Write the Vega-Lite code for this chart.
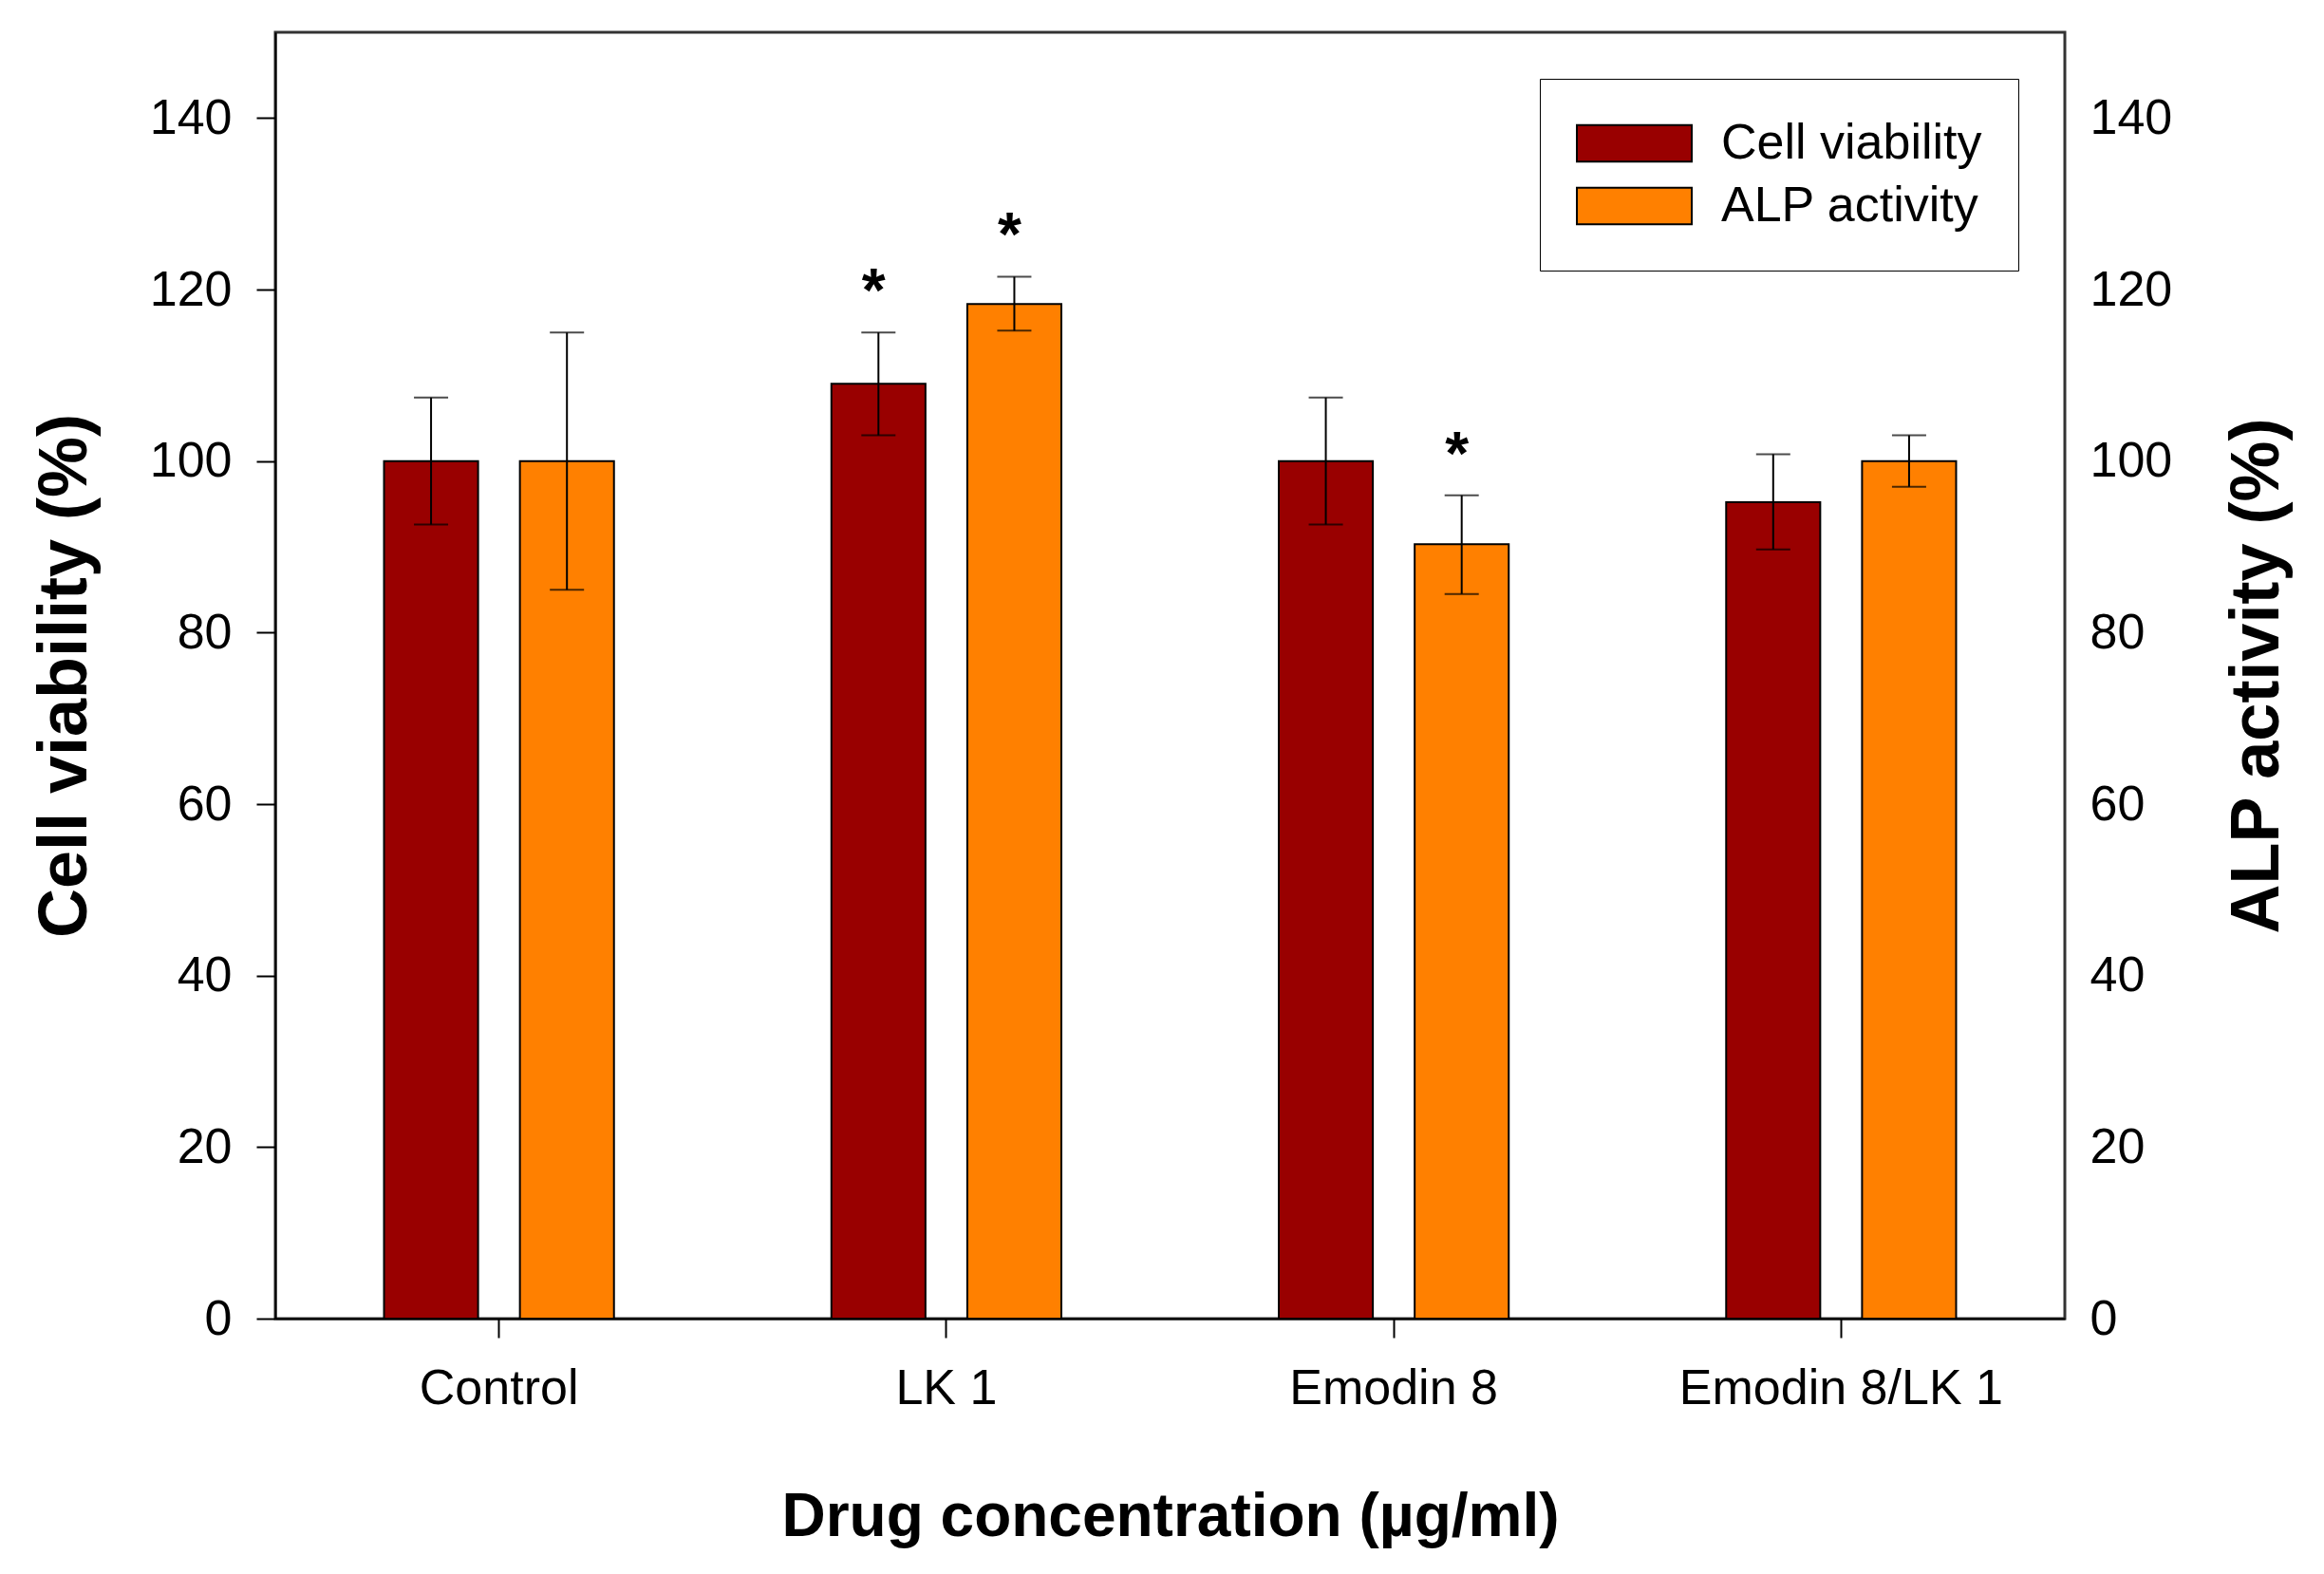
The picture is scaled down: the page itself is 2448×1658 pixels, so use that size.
{
  "$schema": "https://vega.github.io/schema/vega-lite/v6.json",
  "width": 1885,
  "height": 1355,
  "autosize": {"type": "none"},
  "padding": {"left": 290, "top": 34, "right": 273, "bottom": 269},
  "background": "white",
  "config": {
    "font": "Liberation Sans",
    "view": {"stroke": "#333333", "strokeWidth": 3},
    "axis": {"grid": false, "labelColor": "black", "titleColor": "black", "domainColor": "black", "tickColor": "black", "domainWidth": 2, "tickWidth": 2, "labelFont": "Liberation Sans", "titleFont": "Liberation Sans", "labelLimit": 0},
    "legend": {"labelFont": "Liberation Sans", "labelLimit": 0}
  },
  "data": {
    "values": [
      {"group": "Control", "series": "Cell viability", "value": 100, "lo": 92.6, "hi": 107.4, "sig": ""},
      {"group": "Control", "series": "ALP activity", "value": 100, "lo": 85, "hi": 115, "sig": ""},
      {"group": "LK 1", "series": "Cell viability", "value": 109, "lo": 103, "hi": 115, "sig": "*"},
      {"group": "LK 1", "series": "ALP activity", "value": 118.3, "lo": 115.2, "hi": 121.5, "sig": "*"},
      {"group": "Emodin 8", "series": "Cell viability", "value": 100, "lo": 92.6, "hi": 107.4, "sig": ""},
      {"group": "Emodin 8", "series": "ALP activity", "value": 90.3, "lo": 84.5, "hi": 96, "sig": "*"},
      {"group": "Emodin 8/LK 1", "series": "Cell viability", "value": 95.2, "lo": 89.7, "hi": 100.8, "sig": ""},
      {"group": "Emodin 8/LK 1", "series": "ALP activity", "value": 100, "lo": 97, "hi": 103, "sig": ""}
    ]
  },
  "encoding": {
    "x": {
      "field": "group", "type": "nominal", "sort": null,
      "scale": {"paddingInner": 0, "paddingOuter": 0},
      "axis": {"title": "Drug concentration (µg/ml)", "labelAngle": 0, "labelFontSize": 52, "labelLimit": 0, "tickSize": 20, "labelPadding": 28, "titleFontSize": 64, "titleFontWeight": "bold", "titlePadding": 78}
    },
    "xOffset": {
      "field": "series", "type": "nominal",
      "scale": {"domain": ["Cell viability", "ALP activity"], "paddingInner": 0.3077, "paddingOuter": 0.8}
    }
  },
  "layer": [
    {
      "layer": [
        {
          "mark": {"type": "bar", "stroke": "black", "strokeWidth": 2},
          "encoding": {
            "y": {"field": "value", "type": "quantitative", "scale": {"domain": [0, 150], "nice": false},
              "axis": {"title": "Cell viability (%)", "values": [0, 20, 40, 60, 80, 100, 120, 140], "labelFontSize": 52, "tickSize": 20, "labelPadding": 26, "titleFontSize": 72, "titleFontWeight": "bold", "titlePadding": 52}},
            "color": {"field": "series", "type": "nominal",
              "scale": {"domain": ["Cell viability", "ALP activity"], "range": ["#990000", "#FF8000"]},
              "legend": {"title": null, "orient": "top-right", "offset": 49, "strokeColor": "black", "padding": 38, "labelFontSize": 52, "labelLimit": 0, "labelColor": "black", "labelOffset": 30, "clipHeight": 60, "rowPadding": 6, "symbolType": "M-1,-0.32H1V0.32H-1Z", "symbolSize": 14641, "symbolStrokeColor": "black", "symbolStrokeWidth": 2, "symbolOpacity": 1}}
          }
        },
        {
          "mark": {"type": "rule", "color": "black", "strokeWidth": 2},
          "encoding": {"y": {"field": "lo", "type": "quantitative"}, "y2": {"field": "hi"}}
        },
        {
          "mark": {"type": "tick", "color": "black", "size": 36, "thickness": 2, "orient": "horizontal"},
          "encoding": {"y": {"field": "lo", "type": "quantitative"}}
        },
        {
          "mark": {"type": "tick", "color": "black", "size": 36, "thickness": 2, "orient": "horizontal"},
          "encoding": {"y": {"field": "hi", "type": "quantitative"}}
        }
      ]
    },
    {
      "transform": [{"filter": "datum.sig == '*'"}],
      "mark": {"type": "text", "fontSize": 64, "fontWeight": "bold", "color": "black", "baseline": "alphabetic", "dy": -22, "dx": -5},
      "encoding": {
        "text": {"field": "sig"},
        "y": {"field": "hi", "type": "quantitative", "scale": {"domain": [0, 150], "nice": false},
          "axis": {"orient": "right", "title": "ALP activity (%)", "values": [0, 20, 40, 60, 80, 100, 120, 140], "labelFontSize": 52, "ticks": false, "tickSize": 0, "labelPadding": 26, "titleFontSize": 72, "titleFontWeight": "bold", "titleAngle": 270, "titleBaseline": "top", "titlePadding": 55, "domain": false}}
      }
    }
  ],
  "resolve": {"scale": {"y": "independent"}}
}
